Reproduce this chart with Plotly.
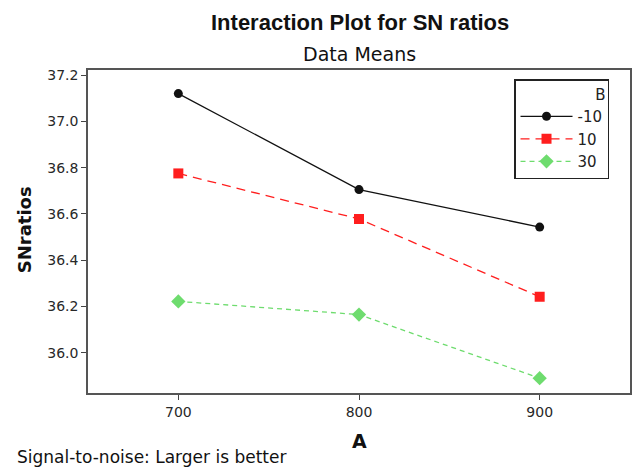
import plotly.graph_objects as go

A_levels = [700, 800, 900]
B_labels = ["-10", "10", "30"]
sn_b_m10 = [37.12, 36.705, 36.543]
sn_b_10 = [36.775, 36.578, 36.242]
sn_b_30 = [36.222, 36.165, 35.89]
y_ticks = [36.0, 36.2, 36.4, 36.6, 36.8, 37.0, 37.2]
x_ticks = [700, 800, 900]

series = [sn_b_m10, sn_b_10, sn_b_30]
colors = ["#111111", "#ff1e1e", "#6edc6e"]
dashes = ["solid", "9px,6px", "5px,4px"]
symbols = ["circle", "square", "diamond"]
msizes = [9, 10, 11]

fig = go.Figure()
for lab, vals, c, d, s, ms in zip(B_labels, series, colors, dashes, symbols, msizes):
    fig.add_trace(go.Scatter(
        x=A_levels, y=vals, name=lab, mode="lines+markers",
        line=dict(color=c, width=1.3, dash=d),
        marker=dict(symbol=s, size=ms, color=c),
    ))

font_main = "DejaVu Sans"
fig.update_layout(
    width=633, height=467,
    margin=dict(l=88, r=1, t=70, b=74),
    paper_bgcolor="white", plot_bgcolor="white",
    font=dict(family=font_main, size=14, color="#222"),
    showlegend=True,
    legend=dict(
        x=0.786, y=0.972, xanchor="left", yanchor="top",
        bordercolor="#222", borderwidth=1.5, bgcolor="white",
        title=dict(text="B", side="top right", font=dict(size=15)),
        font=dict(size=15), tracegroupgap=0, itemwidth=52,
    ),
    xaxis=dict(
        range=[650, 950], tickvals=x_ticks, ticks="outside", ticklen=5,
        tickcolor="#444", showline=True, mirror=True, linecolor="#555",
        linewidth=1.5, showgrid=False, zeroline=False,
        tickfont=dict(size=14, color="#282828"),
    ),
    yaxis=dict(
        range=[35.826, 37.222], tickvals=y_ticks, tickformat=".1f",
        ticks="outside", ticklen=5, tickcolor="#444", showline=True,
        mirror=True, linecolor="#555", linewidth=1.5, showgrid=False,
        zeroline=False, tickfont=dict(size=14, color="#282828"),
    ),
)

fig.add_annotation(text="<b>Interaction Plot for SN ratios</b>", showarrow=False,
                   font=dict(family="Liberation Sans", size=22, color="#111"))
fig.add_annotation(text="Data Means", showarrow=False,
                   font=dict(family=font_main, size=19, color="#111"))
fig.add_annotation(text="<b>SNratios</b>", textangle=-90, showarrow=False,
                   font=dict(family=font_main, size=18, color="#111"))
fig.add_annotation(text="<b>A</b>", showarrow=False,
                   font=dict(family=font_main, size=19, color="#111"))
fig.add_annotation(text="Signal-to-noise: Larger is better", showarrow=False,
                   xanchor="left", font=dict(family=font_main, size=17, color="#111"))

# position annotations in pixel terms converted to paper coordinates
W, H = 633, 467
L, R, T, B = 88, 1, 70, 74
pw, ph = W - L - R, H - T - B
def px(x):
    return (x - L) / pw
def py(y):
    return (H - B - y) / ph
pos = [(361, 22), (361, 54), (25, 230), (361, 441), (15, 457)]
for ann, (ax, ay) in zip(fig.layout.annotations, pos):
    ann.xref = "paper"
    ann.yref = "paper"
    ann.x = px(ax)
    ann.y = py(ay)
    ann.yanchor = "middle"
    if ann.xanchor is None:
        ann.xanchor = "center"

fig.write_html("out.html")
